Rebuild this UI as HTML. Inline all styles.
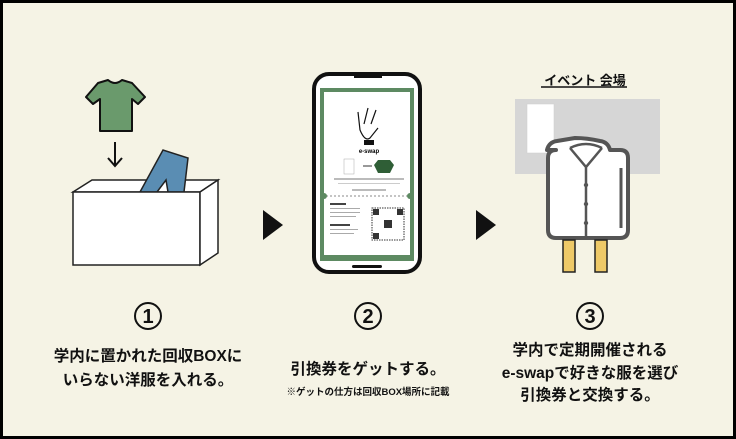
<!DOCTYPE html>
<html><head><meta charset="utf-8"><style>
body{margin:0;width:736px;height:439px;overflow:hidden;background:#000;}
#c{position:absolute;left:3px;top:3px;width:730px;height:433px;background:#f5f3e5;}
.t{position:absolute;font-family:"Liberation Sans","Noto Sans CJK JP",sans-serif;font-weight:bold;color:#111;text-align:center;white-space:nowrap;transform:translateX(-50%);}
</style></head><body><div id="c"></div>
<svg width="736" height="439" style="position:absolute;left:0;top:0">
<!-- tshirt -->
<path d="M98,83 L108,80 Q115,86 122,80 L132,83 L145,97 L138,104 L132,99 L132,131 L100,131 L100,99 L93,104 L86,97 Z" fill="#6a9a6c" stroke="#111" stroke-width="2" stroke-linejoin="round"/>
<path d="M115,142 V165 M108,158 L115,166 L122,158" fill="none" stroke="#111" stroke-width="2"/>
<path d="M73,192 L92,180 L218,180 L200,192 Z" fill="#fff" stroke="#222" stroke-width="1.5"/>
<path d="M140,192 L163,150 L188,158 L184,192 L168,192 L166,180 L157,192 Z" fill="#5a8db3" stroke="#222" stroke-width="1.5"/>
<rect x="73" y="192" width="127" height="73" fill="#fff" stroke="#222" stroke-width="1.5"/>
<path d="M200,192 L218,180 L218,253 L200,265 Z" fill="#fff" stroke="#222" stroke-width="1.5"/>
<polygon points="263,210 283,225 263,240" fill="#111"/>
<polygon points="476,210 496,225 476,240" fill="#111"/>
<!-- phone -->
<rect x="314" y="74" width="106" height="198" rx="15" fill="#fff" stroke="#111" stroke-width="4"/>
<rect x="354" y="74" width="28" height="4" fill="#111"/>
<rect x="352" y="265" width="30" height="3" rx="1.5" fill="#111"/>
<rect x="320" y="88" width="94" height="173" fill="#5d8a62"/>
<rect x="324" y="92" width="86" height="163" fill="#fff"/>
<line x1="326" y1="196" x2="408" y2="196" stroke="#888" stroke-dasharray="2,2"/>
<circle cx="324" cy="196" r="3" fill="#5d8a62"/><circle cx="410" cy="196" r="3" fill="#5d8a62"/>
<path d="M360,130 L358,112 M364,124 L368,108 M371,124 L376,110 M360,130 Q365,142 370,138 L378,128" fill="none" stroke="#111" stroke-width="1.2"/>
<rect x="364" y="140" width="10" height="5" fill="#111"/>
<text x="369" y="153" font-family="Liberation Sans" font-size="6" font-weight="bold" text-anchor="middle">e-swap</text>
<rect x="344" y="159" width="10" height="15" fill="#fff" stroke="#aaa" stroke-width=".5"/>
<line x1="363" y1="166" x2="372" y2="166" stroke="#333"/>
<path d="M378,160 L390,160 L394,165 L390,173 L378,173 L374,165 Z" fill="#2f5e36"/>
<rect x="334" y="178" width="70" height="2" fill="#bbb"/>
<rect x="338" y="183" width="62" height="1" fill="#ccc"/>
<rect x="352" y="189" width="34" height="2" fill="#bbb"/>
<g fill="#aaa"><rect x="330" y="203" width="16" height="2" fill="#444"/><rect x="330" y="208" width="30" height="1"/><rect x="330" y="212" width="30" height="1"/><rect x="330" y="216" width="26" height="1"/><rect x="330" y="224" width="20" height="2" fill="#444"/><rect x="330" y="229" width="28" height="1"/><rect x="330" y="233" width="24" height="1"/></g>
<rect x="372" y="208" width="32" height="32" fill="#fff" stroke="#333" stroke-width="1" stroke-dasharray="1.5,1"/>
<rect x="373" y="209" width="6" height="6" fill="#333"/><rect x="397" y="209" width="6" height="6" fill="#333"/><rect x="373" y="233" width="6" height="6" fill="#333"/>
<rect x="384" y="220" width="8" height="8" fill="#333"/>
<!-- event -->
<rect x="515" y="99" width="145" height="75" fill="#d6d6d6"/>
<rect x="527" y="104" width="27" height="49" fill="#fff" stroke="#ccc" stroke-width=".5"/>
<path d="M547,150 Q549,142 557,141 L575,138 Q587,138 600,141 Q608,142 610,150 L620,150 Q628,150 628,158 L628,230 Q628,238 620,238 L556,238 Q548,238 548,230 L548,158 Q548,150 556,150 Z" fill="#fff" stroke="#555" stroke-width="4" stroke-linejoin="round"/>
<path d="M570,148 L586,167 L602,148 M586,167 L586,238 M570,148 Q586,140 602,148" fill="none" stroke="#555" stroke-width="2.5"/>
<line x1="621" y1="168" x2="621" y2="228" stroke="#555" stroke-width="3"/>
<circle cx="586" cy="185" r="2.2" fill="#555"/><circle cx="586" cy="204" r="2.2" fill="#555"/><circle cx="586" cy="223" r="2.2" fill="#555"/>
<rect x="563" y="240" width="12" height="32" fill="#eec968" stroke="#222" stroke-width="1.5"/>
<rect x="595" y="240" width="12" height="32" fill="#eec968" stroke="#222" stroke-width="1.5"/>
<line x1="541" y1="87" x2="627" y2="87" stroke="#111" stroke-width="1.5"/>
<!-- numbers -->
<g fill="none" stroke="#111" stroke-width="2"><circle cx="148" cy="316" r="13"/><circle cx="368" cy="316" r="13"/><circle cx="590" cy="316" r="13"/></g>
<g font-family="Liberation Sans" font-weight="bold" font-size="20" text-anchor="middle" fill="#111"><text x="148" y="323">1</text><text x="368" y="323">2</text><text x="590" y="323">3</text></g>
</svg>
<div class="t" style="left:585px;top:70px;font-size:13px">イベント 会場</div>
<div class="t" style="left:148px;top:345px;font-size:15.5px;line-height:24px">学内に置かれた回収BOXに<br>いらない洋服を入れる。</div>
<div class="t" style="left:368px;top:360px;font-size:15.5px;line-height:20px">引換券をゲットする。</div>
<div class="t" style="left:368px;top:384px;font-size:9.5px">※ゲットの仕方は回収BOX場所に記載</div>
<div class="t" style="left:590px;top:340px;font-size:15.5px;line-height:22.5px">学内で定期開催される<br>e-swapで好きな服を選び<br>引換券と交換する。</div>
</body></html>
